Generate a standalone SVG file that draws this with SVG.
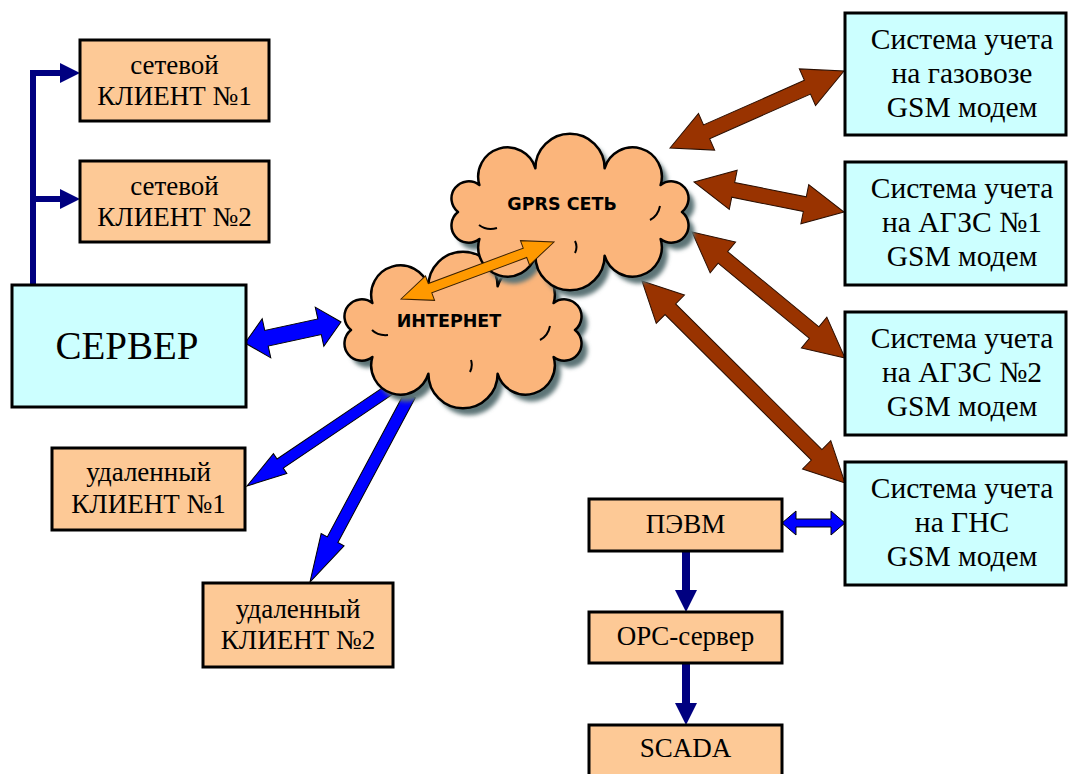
<svg xmlns="http://www.w3.org/2000/svg" xmlns:xlink="http://www.w3.org/1999/xlink" width="1068" height="774" viewBox="0 0 1068 774">
<style>
.peach{fill:#fdc996;stroke:#000;stroke-width:3}
.cyan{fill:#ccffff;stroke:#000;stroke-width:3}
.t{fill:#000;text-anchor:middle}
.t26{font-size:27px}
.t28{font-size:29.5px}
.cl{font-weight:bold;font-size:17.5px;fill:#000;text-anchor:middle}
.brown{fill:#993300;stroke:#2a0e00;stroke-width:1}
.blue{fill:#0000ff;stroke:#000;stroke-width:1}
.orange{fill:#ff9900;stroke:#3a2000;stroke-width:1}
.navy{fill:#000080}
.cloud{fill:#fbb57b;stroke:#000;stroke-width:2.5;stroke-linejoin:round}
.shadow{fill:#5d7577}
.inner{fill:none;stroke:#000;stroke-width:2}
</style>
<defs>
<filter id="blur" x="-10%" y="-10%" width="120%" height="120%"><feGaussianBlur stdDeviation="2"/></filter>
<path id="cloudI" d="M575,330 A1,1 0 0 1 553.6,357 A1,1 0 0 1 497.6,373.7 A1,1 0 0 1 428.4,373.7 A1,1 0 0 1 372.4,357 A1,1 0 0 1 351,330 A1,1 0 0 1 372.4,303 A1,1 0 0 1 428.4,286.3 A1,1 0 0 1 497.6,286.3 A1,1 0 0 1 553.6,303 A1,1 0 0 1 575,330 Z"/>
<path id="cloudG" d="M682,212 A1,1 0 0 1 660.6,239 A1,1 0 0 1 604.6,255.7 A1,1 0 0 1 535.4,255.7 A1,1 0 0 1 479.4,239 A1,1 0 0 1 458,212 A1,1 0 0 1 479.4,185 A1,1 0 0 1 535.4,168.3 A1,1 0 0 1 604.6,168.3 A1,1 0 0 1 660.6,185 A1,1 0 0 1 682,212 Z"/>
</defs>

<g id="connectors">
  <polyline points="33,285 33,73 62,73" fill="none" stroke="#000080" stroke-width="6"/>
  <polygon class="navy" points="60,63 80,73 60,83"/>
  <line x1="33" y1="199" x2="62" y2="199" stroke="#000080" stroke-width="6"/>
  <polygon class="navy" points="60,189 80,199 60,209"/>
  <path class="blue" transform="translate(245,343) rotate(-12.34)" d="M0,0 L22,-20 L22,-8 L76.3,-8 L76.3,-20 L98.3,0 L76.3,20 L76.3,8 L22,8 L22,20 Z"/>
  <path class="blue" transform="translate(395,386) rotate(145.96)" d="M0,-5.5 L138.6,-5.5 L138.6,-12 L178.6,0 L138.6,12 L138.6,5.5 L0,5.5 Z"/>
  <path class="blue" transform="translate(410,395) rotate(118.14)" d="M0,-6 L164.1,-6 L164.1,-13 L212.1,0 L164.1,13 L164.1,6 L0,6 Z"/>
  <path class="brown" transform="translate(670,148) rotate(-23.87)" d="M0,0 L40,-20 L40,-7.5 L150.3,-7.5 L150.3,-20 L190.3,0 L150.3,20 L150.3,7.5 L40,7.5 L40,20 Z"/>
  <path class="brown" transform="translate(694,182) rotate(11.31)" d="M0,0 L40,-20 L40,-7.5 L113,-7.5 L113,-20 L153,0 L113,20 L113,7.5 L40,7.5 L40,20 Z"/>
  <path class="brown" transform="translate(692,232) rotate(39.47)" d="M0,0 L40,-20 L40,-7.5 L158.2,-7.5 L158.2,-20 L198.2,0 L158.2,20 L158.2,7.5 L40,7.5 L40,20 Z"/>
  <path class="brown" transform="translate(642,281) rotate(44.86)" d="M0,0 L40,-20 L40,-7.5 L246.4,-7.5 L246.4,-20 L286.4,0 L246.4,20 L246.4,7.5 L40,7.5 L40,20 Z"/>
  <path class="blue" transform="translate(782,523)" d="M0,0 L14,-12 L14,-4 L49,-4 L49,-12 L63,0 L49,12 L49,4 L14,4 L14,12 Z"/>
  <path class="navy" d="M682,551 L690,551 L690,590 L697,590 L686,612 L675,590 L682,590 Z"/>
  <path class="navy" d="M682,663 L690,663 L690,703 L697,703 L686,725 L675,703 L682,703 Z"/>
</g>

<g id="internet">
  <use xlink:href="#cloudI" class="shadow" transform="translate(6,7)" filter="url(#blur)"/>
  <use xlink:href="#cloudI" class="cloud"/>
  <path class="inner" d="M372,330 q6,6 16,5 M540,340 q8,-4 10,-14 M470,372 q3,-6 1,-12"/>
  <text class="cl" x="449" y="327" style="font-family:'DejaVu Sans',sans-serif">ИНТЕРНЕТ</text>
</g>
<g id="gprs">
  <use xlink:href="#cloudG" class="shadow" transform="translate(6,7)" filter="url(#blur)"/>
  <use xlink:href="#cloudG" class="cloud"/>
  <path class="inner" d="M479,225 q8,6 18,3 M650,220 q8,-4 10,-14 M575,253 q3,-6 0,-12"/>
  <text class="cl" x="562" y="210" style="font-family:'DejaVu Sans',sans-serif">GPRS СЕТЬ</text>
</g>
<g id="internet-gprs-link">
  <path class="orange" transform="translate(401,299) rotate(-20.43)" d="M0,0 L31,-13 L31,-5 L132.3,-5 L132.3,-13 L163.3,0 L132.3,13 L132.3,5 L31,5 L31,13 Z"/>
</g>

<g id="client1">
  <rect class="peach" x="80" y="40" width="189" height="81"/>
  <text class="t t26" x="174.5" y="74" style="font-family:'Liberation Serif',serif">сетевой</text>
  <text class="t t26" x="174.5" y="105" style="font-family:'Liberation Serif',serif">КЛИЕНТ №1</text>
</g>
<g id="client2">
  <rect class="peach" x="80" y="161" width="189" height="81"/>
  <text class="t t26" x="174.5" y="195" style="font-family:'Liberation Serif',serif">сетевой</text>
  <text class="t t26" x="174.5" y="226" style="font-family:'Liberation Serif',serif">КЛИЕНТ №2</text>
</g>
<g id="server">
  <rect class="cyan" x="12" y="285" width="234" height="122"/>
  <text class="t" x="127" y="359" font-size="39" style="font-family:'Liberation Serif',serif">СЕРВЕР</text>
</g>
<g id="remote1">
  <rect class="peach" x="52" y="448" width="193" height="82"/>
  <text class="t t26" x="148.5" y="481" style="font-family:'Liberation Serif',serif">удаленный</text>
  <text class="t t26" x="148.5" y="513" style="font-family:'Liberation Serif',serif">КЛИЕНТ №1</text>
</g>
<g id="remote2">
  <rect class="peach" x="203" y="583" width="190" height="84"/>
  <text class="t t26" x="298" y="618" style="font-family:'Liberation Serif',serif">удаленный</text>
  <text class="t t26" x="298" y="649" style="font-family:'Liberation Serif',serif">КЛИЕНТ №2</text>
</g>
<g id="sys1">
  <rect class="cyan" x="845" y="13" width="221" height="122"/>
  <text class="t t28" x="962" y="49" style="font-family:'Liberation Serif',serif">Система учета</text>
  <text class="t t28" x="962" y="83" style="font-family:'Liberation Serif',serif">на газовозе</text>
  <text class="t t28" x="962" y="117" style="font-family:'Liberation Serif',serif">GSM модем</text>
</g>
<g id="sys2">
  <rect class="cyan" x="845" y="162" width="221" height="123"/>
  <text class="t t28" x="962" y="198" style="font-family:'Liberation Serif',serif">Система учета</text>
  <text class="t t28" x="962" y="232" style="font-family:'Liberation Serif',serif">на АГЗС №1</text>
  <text class="t t28" x="962" y="266" style="font-family:'Liberation Serif',serif">GSM модем</text>
</g>
<g id="sys3">
  <rect class="cyan" x="845" y="312" width="221" height="123"/>
  <text class="t t28" x="962" y="348" style="font-family:'Liberation Serif',serif">Система учета</text>
  <text class="t t28" x="962" y="382" style="font-family:'Liberation Serif',serif">на АГЗС №2</text>
  <text class="t t28" x="962" y="416" style="font-family:'Liberation Serif',serif">GSM модем</text>
</g>
<g id="sys4">
  <rect class="cyan" x="845" y="462" width="221" height="123"/>
  <text class="t t28" x="962" y="498" style="font-family:'Liberation Serif',serif">Система учета</text>
  <text class="t t28" x="962" y="532" style="font-family:'Liberation Serif',serif">на ГНС</text>
  <text class="t t28" x="962" y="566" style="font-family:'Liberation Serif',serif">GSM модем</text>
</g>
<g id="pevm">
  <rect class="peach" x="589" y="499" width="193" height="52"/>
  <text class="t t26" x="685.5" y="533" style="font-family:'Liberation Serif',serif">ПЭВМ</text>
</g>
<g id="opc">
  <rect class="peach" x="589" y="612" width="193" height="51"/>
  <text class="t t26" x="685.5" y="645" style="font-family:'Liberation Serif',serif">OPC-сервер</text>
</g>
<g id="scada">
  <rect class="peach" x="589" y="725" width="193" height="52"/>
  <text class="t t26" x="685.5" y="757" style="font-family:'Liberation Serif',serif">SCADA</text>
</g>
</svg>
